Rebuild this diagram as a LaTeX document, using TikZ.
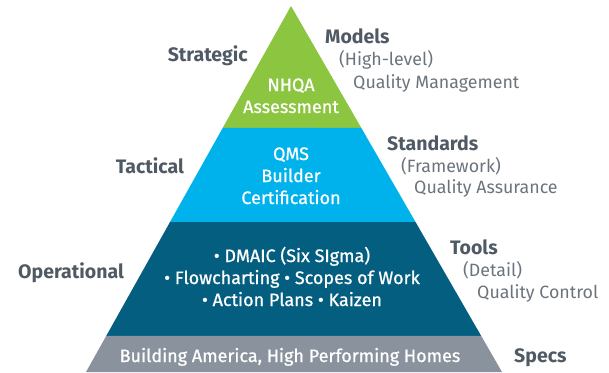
\documentclass[tikz,border=0pt]{standalone}
\usepackage{fontspec}
\setmainfont{Fira Sans}
\newfontfamily\bandfont[FakeBold=0.8]{Fira Sans}
\usetikzlibrary{calc}
\definecolor{nhqagreen}{HTML}{8CC540}
\definecolor{qmsblue}{HTML}{00B2EC}
\definecolor{toolblue}{HTML}{045E80}
\definecolor{specgray}{HTML}{8A939D}
\definecolor{labelgray}{HTML}{505A64}
\definecolor{notegray}{HTML}{6B747D}

\begin{document}
\begin{tikzpicture}[x=1pt,y=-1pt,every node/.style={inner sep=0pt},
  band text/.style={text=white,font=\bandfont\fontsize{18}{20}\selectfont,anchor=base},
  level label/.style={text=labelgray,font=\fontsize{19.5}{20}\selectfont\bfseries,anchor=base east},
  kind label/.style={text=labelgray,font=\fontsize{19.5}{20}\selectfont\bfseries,anchor=base west},
  note label/.style={text=notegray,font=\fontsize{17.8}{20}\selectfont,anchor=base west}]
  \useasboundingbox (0,0) rectangle (609,372);
  \coordinate (apex) at (291,6);
  \coordinate (bl) at (86,372);
  \coordinate (br) at (502,372);

  % pyramid bands
  \fill[nhqagreen] (apex) -- ($(apex)!0.3333!(br)$) -- ($(apex)!0.3333!(bl)$) -- cycle;
  \fill[qmsblue] ($(apex)!0.3333!(bl)$) -- ($(apex)!0.3333!(br)$) -- ($(apex)!0.5902!(br)$) -- ($(apex)!0.5902!(bl)$) -- cycle;
  \fill[toolblue] ($(apex)!0.5902!(bl)$) -- ($(apex)!0.5902!(br)$) -- ($(apex)!0.9016!(br)$) -- ($(apex)!0.9016!(bl)$) -- cycle;
  \fill[specgray] ($(apex)!0.9016!(bl)$) -- ($(apex)!0.9016!(br)$) -- (br) -- (bl) -- cycle;

  % texts inside the bands
  \node[band text] (nhqa) at (291,91) {NHQA};
  \node[band text] (assess) at (291,113) {Assessment};
  \node[band text] (qms) at (291,160) {QMS};
  \node[band text] (builder) at (291,182) {Builder};
  \node[band text] (cert) at (291,204) {Certification};
  \node[band text] (dmaic) at (292,262) {• DMAIC (Six SIgma)};
  \node[band text] (flow) at (292,284) {• Flowcharting • Scopes of Work};
  \node[band text] (action) at (292,306) {• Action Plans • Kaizen};
  \node[band text] (homes) at (290,362) {Building America, High Performing Homes};

  % levels on the left
  \node[level label] (strategic) at (248,61) {Strategic};
  \node[level label] (tactical) at (184,173) {Tactical};
  \node[level label] (operational) at (124,278) {Operational};

  % kinds on the right
  \node[kind label] (models) at (325,43) {Models};
  \node[note label] (highlevel) at (339,65) {(High-level)};
  \node[note label] (qmanage) at (353,88) {Quality Management};
  \node[kind label] (standards) at (387,150) {Standards};
  \node[note label] (framework) at (401,172) {(Framework)};
  \node[note label] (qassure) at (414,193) {Quality Assurance};
  \node[kind label] (tools) at (450,254) {Tools};
  \node[note label] (detail) at (463,276) {(Detail)};
  \node[note label] (qcontrol) at (477,298) {Quality Control};
  \node[kind label] (specs) at (514,362) {Specs};
\end{tikzpicture}
\end{document}
